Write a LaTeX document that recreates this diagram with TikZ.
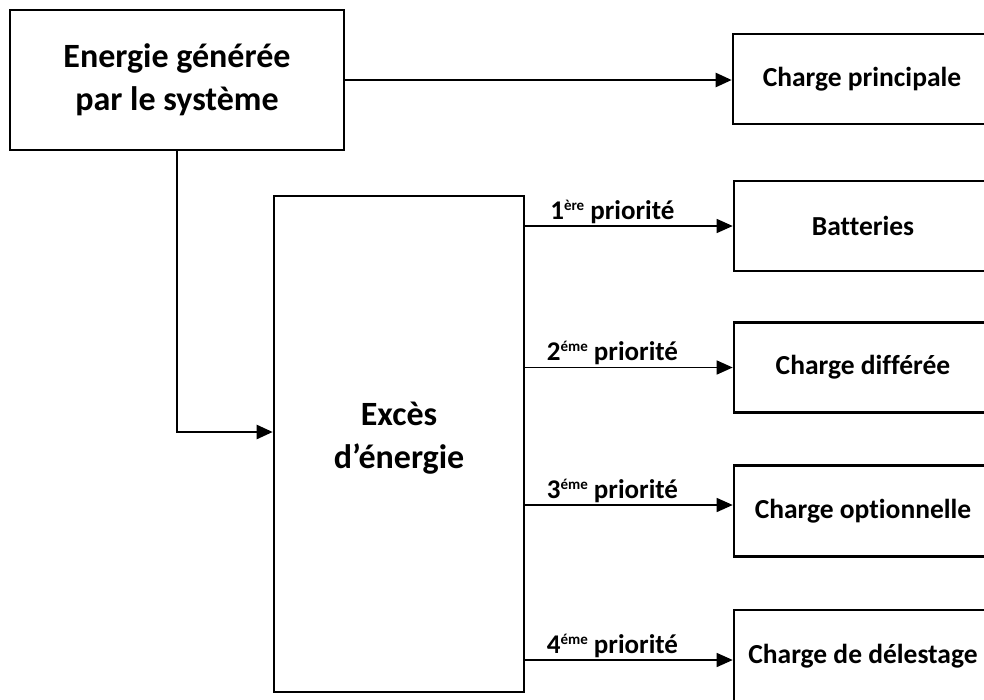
\documentclass[tikz,border=0pt]{standalone}
\usepackage{fontspec}
\setmainfont{Carlito}[Ligatures=NoCommon]
\usetikzlibrary{arrows.meta}
% small raised ordinal suffix
\newcommand\ordsuffix[1]{\raisebox{9pt}{\fontsize{15}{15}\selectfont #1}}
\begin{document}
\begin{tikzpicture}[x=1pt,y=-1pt,
  box/.style={draw, line width=2.6pt, rectangle, align=center, inner sep=0pt,
    font=\fontsize{27.5}{32}\selectfont\bfseries},
  bigtext/.style={font=\fontsize{34}{43}\selectfont\bfseries},
  load/.style={box, minimum width=258pt},
  flow/.style={line width=2.4pt, -{Triangle[length=16pt,width=14pt]}},
  prio/.style={line width=1.4pt, -{Triangle[length=16pt,width=14pt]}},
  plabel/.style={font=\fontsize{27}{30}\selectfont\bfseries, anchor=south, inner sep=2pt}]
\clip (0,0) rectangle (984,699);
\useasboundingbox (0,0) rectangle (984,699);
\fill[white] (0,0) rectangle (984,699);

% source and surplus blocks
\node[box, bigtext, minimum width=334pt, minimum height=140pt] (gen) at (177,80)
  {Energie générée\\par le système};
\node[box, minimum width=250pt, minimum height=496pt,
  label={[bigtext, align=center, yshift=6pt]center:{Excès\\d’énergie}}] (exc) at (399,444) {};

% loads
\node[load, minimum height=90pt] (prin) at (862,79) {Charge principale};
\node[load, minimum height=90pt] (bat)  at (863,226) {Batteries};
\node[load, minimum height=90pt] (dif)  at (863,367.5) {Charge différée};
\node[load, minimum height=91pt] (opt)  at (863,511) {Charge optionnelle};
\node[load, minimum height=92pt] (del)  at (863,656) {Charge de délestage};

% entry points of the lower loads
\coordinate (optin) at ([yshift=6pt]opt.west);
\coordinate (delin) at ([yshift=-4pt]del.west);
\coordinate (excin) at ([yshift=12pt]exc.west);

% main flows
\draw[flow] (gen.east) -- (gen.east -| prin.west);
\draw[flow] (gen.south) |- (excin);

% surplus distribution by priority
\draw[prio] (exc.east |- bat.west) -- node[plabel, pos=0.42] {1\ordsuffix{ère} priorité} (bat.west);
\draw[prio] (exc.east |- dif.west) -- node[plabel, pos=0.42] {2\ordsuffix{éme} priorité} (dif.west);
\draw[prio] (exc.east |- optin) -- node[plabel, pos=0.42] {3\ordsuffix{éme} priorité} (optin);
\draw[prio] (exc.east |- delin) -- node[plabel, pos=0.42] {4\ordsuffix{éme} priorité} (delin);
\end{tikzpicture}
\end{document}
